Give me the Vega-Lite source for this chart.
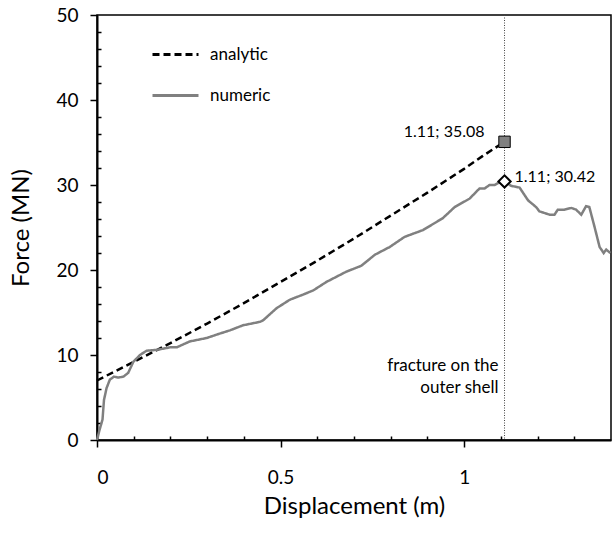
{
  "$schema": "https://vega.github.io/schema/vega-lite/v6.json",
  "width": 514,
  "height": 425,
  "autosize": {"type": "none"},
  "padding": {"left": 97, "top": 15, "right": 5, "bottom": 98},
  "background": "white",
  "config": {
    "font": "Lato",
    "view": {"stroke": "black", "strokeWidth": 1.5},
    "axis": {"grid": false, "domainColor": "black", "domainWidth": 2, "tickColor": "black", "tickWidth": 1.5, "labelColor": "black", "titleColor": "black", "labelFont": "Lato", "titleFont": "Lato", "titleFontWeight": "normal"}
  },
  "datasets": {
    "curves": [
      {"x": 0, "y": 7.0, "series": "analytic"},
      {"x": 0.1, "y": 9.2, "series": "analytic"},
      {"x": 0.2, "y": 11.4, "series": "analytic"},
      {"x": 0.3, "y": 13.7, "series": "analytic"},
      {"x": 0.4, "y": 16.1, "series": "analytic"},
      {"x": 0.5, "y": 18.6, "series": "analytic"},
      {"x": 0.6, "y": 21.1, "series": "analytic"},
      {"x": 0.7, "y": 23.7, "series": "analytic"},
      {"x": 0.8, "y": 26.4, "series": "analytic"},
      {"x": 0.9, "y": 29.1, "series": "analytic"},
      {"x": 1.0, "y": 31.9, "series": "analytic"},
      {"x": 1.05, "y": 33.4, "series": "analytic"},
      {"x": 1.11, "y": 35.08, "series": "analytic"},
      {"x": 0, "y": 0, "series": "numeric"},
      {"x": 0.007, "y": 1.2, "series": "numeric"},
      {"x": 0.015, "y": 2.4, "series": "numeric"},
      {"x": 0.019, "y": 4.7, "series": "numeric"},
      {"x": 0.026, "y": 6.1, "series": "numeric"},
      {"x": 0.035, "y": 7.1, "series": "numeric"},
      {"x": 0.046, "y": 7.45, "series": "numeric"},
      {"x": 0.058, "y": 7.35, "series": "numeric"},
      {"x": 0.072, "y": 7.45, "series": "numeric"},
      {"x": 0.085, "y": 7.9, "series": "numeric"},
      {"x": 0.099, "y": 9.2, "series": "numeric"},
      {"x": 0.117, "y": 10.0, "series": "numeric"},
      {"x": 0.135, "y": 10.5, "series": "numeric"},
      {"x": 0.162, "y": 10.6, "series": "numeric"},
      {"x": 0.199, "y": 10.9, "series": "numeric"},
      {"x": 0.217, "y": 10.9, "series": "numeric"},
      {"x": 0.253, "y": 11.6, "series": "numeric"},
      {"x": 0.299, "y": 12.0, "series": "numeric"},
      {"x": 0.326, "y": 12.4, "series": "numeric"},
      {"x": 0.362, "y": 12.9, "series": "numeric"},
      {"x": 0.398, "y": 13.5, "series": "numeric"},
      {"x": 0.444, "y": 13.9, "series": "numeric"},
      {"x": 0.453, "y": 14.1, "series": "numeric"},
      {"x": 0.489, "y": 15.5, "series": "numeric"},
      {"x": 0.525, "y": 16.5, "series": "numeric"},
      {"x": 0.561, "y": 17.1, "series": "numeric"},
      {"x": 0.589, "y": 17.6, "series": "numeric"},
      {"x": 0.625, "y": 18.6, "series": "numeric"},
      {"x": 0.679, "y": 19.8, "series": "numeric"},
      {"x": 0.72, "y": 20.5, "series": "numeric"},
      {"x": 0.757, "y": 21.8, "series": "numeric"},
      {"x": 0.797, "y": 22.7, "series": "numeric"},
      {"x": 0.838, "y": 23.9, "series": "numeric"},
      {"x": 0.888, "y": 24.7, "series": "numeric"},
      {"x": 0.942, "y": 26.1, "series": "numeric"},
      {"x": 0.974, "y": 27.4, "series": "numeric"},
      {"x": 1.015, "y": 28.4, "series": "numeric"},
      {"x": 1.042, "y": 29.6, "series": "numeric"},
      {"x": 1.056, "y": 29.6, "series": "numeric"},
      {"x": 1.069, "y": 30.0, "series": "numeric"},
      {"x": 1.083, "y": 30.0, "series": "numeric"},
      {"x": 1.095, "y": 30.3, "series": "numeric"},
      {"x": 1.11, "y": 30.42, "series": "numeric"},
      {"x": 1.128, "y": 29.9, "series": "numeric"},
      {"x": 1.151, "y": 29.7, "series": "numeric"},
      {"x": 1.174, "y": 28.2, "series": "numeric"},
      {"x": 1.196, "y": 27.4, "series": "numeric"},
      {"x": 1.205, "y": 26.9, "series": "numeric"},
      {"x": 1.233, "y": 26.5, "series": "numeric"},
      {"x": 1.246, "y": 26.5, "series": "numeric"},
      {"x": 1.255, "y": 27.1, "series": "numeric"},
      {"x": 1.273, "y": 27.1, "series": "numeric"},
      {"x": 1.292, "y": 27.3, "series": "numeric"},
      {"x": 1.305, "y": 27.1, "series": "numeric"},
      {"x": 1.319, "y": 26.5, "series": "numeric"},
      {"x": 1.332, "y": 27.5, "series": "numeric"},
      {"x": 1.341, "y": 27.4, "series": "numeric"},
      {"x": 1.355, "y": 25.1, "series": "numeric"},
      {"x": 1.369, "y": 22.7, "series": "numeric"},
      {"x": 1.38, "y": 22.0, "series": "numeric"},
      {"x": 1.387, "y": 22.4, "series": "numeric"},
      {"x": 1.398, "y": 22.0, "series": "numeric"}
    ],
    "markers": [
      {"x": 1.11, "y": 35.08, "kind": "analytic", "label": "1.11; 35.08"},
      {"x": 1.11, "y": 30.42, "kind": "numeric", "label": "1.11; 30.42"}
    ],
    "fracture": [
      {"x": 1.11, "y": 8.7, "label": "fracture on the\nouter shell"}
    ]
  },
  "layer": [
    {
      "data": {"name": "fracture"},
      "mark": {"type": "rule", "color": "#444444", "strokeWidth": 1, "strokeDash": [1, 1.5]},
      "encoding": {
        "x": {"field": "x", "type": "quantitative", "scale": {"domain": [0, 1.4], "nice": false}, "axis": null}
      }
    },
    {
      "data": {"name": "fracture"},
      "mark": {"type": "text", "align": "right", "baseline": "middle", "dx": -6, "fontSize": 17, "lineHeight": 22, "lineBreak": "\n", "color": "black"},
      "encoding": {
        "x": {"field": "x", "type": "quantitative", "axis": null},
        "y": {"field": "y", "type": "quantitative", "axis": null},
        "text": {"field": "label"}
      }
    },
    {
      "data": {"name": "curves"},
      "mark": {"type": "line", "strokeWidth": 2.5},
      "encoding": {
        "x": {"field": "x", "type": "quantitative", "scale": {"domain": [0, 1.4], "nice": false},
          "axis": {"orient": "bottom", "title": "Displacement (m)", "values": [0, 0.5, 1], "format": "~g", "tickSize": 7, "labelFontSize": 19, "labelPadding": 21, "titleFontSize": 24, "titlePadding": 7}},
        "y": {"field": "y", "type": "quantitative", "scale": {"domain": [0, 50], "nice": false},
          "axis": {"orient": "left", "title": "Force (MN)", "values": [0, 10, 20, 30, 40, 50], "tickSize": 7, "labelFontSize": 19, "labelPadding": 12, "titleFontSize": 24, "titlePadding": 22}},
        "color": {"field": "series", "type": "nominal", "scale": {"domain": ["analytic", "numeric"], "range": ["black", "#808080"]},
          "legend": {"title": null, "orient": "none", "legendX": 54, "legendY": 15, "symbolType": "stroke", "symbolSize": 2116, "symbolStrokeWidth": 3, "labelFontSize": 17, "labelOffset": 10, "rowPadding": 8, "padding": 0, "labelColor": "black"}},
        "strokeDash": {"field": "series", "type": "nominal", "scale": {"domain": ["analytic", "numeric"], "range": [[7, 4], [1, 0]]}, "legend": null}
      }
    },
    {
      "data": {"name": "markers"},
      "transform": [{"filter": "datum.kind === 'analytic'"}],
      "mark": {"type": "point", "shape": "square", "filled": true, "fill": "#808080", "stroke": "black", "strokeWidth": 1, "size": 130, "opacity": 1},
      "encoding": {
        "x": {"field": "x", "type": "quantitative",
          "axis": {"orient": "bottom", "title": null, "labels": false, "domain": false, "values": [0.1, 0.2, 0.3, 0.4, 0.6, 0.7, 0.8, 0.9, 1.1, 1.2, 1.3], "tickSize": -4}},
        "y": {"field": "y", "type": "quantitative",
          "axis": {"orient": "left", "title": null, "labels": false, "domain": false, "values": [2, 4, 6, 8, 12, 14, 16, 18, 22, 24, 26, 28, 32, 34, 36, 38, 42, 44, 46, 48], "tickSize": -4}}
      }
    },
    {
      "data": {"name": "markers"},
      "transform": [{"filter": "datum.kind === 'numeric'"}],
      "mark": {"type": "point", "shape": "diamond", "filled": true, "fill": "white", "stroke": "black", "strokeWidth": 2, "size": 150, "opacity": 1},
      "encoding": {
        "x": {"field": "x", "type": "quantitative", "axis": null},
        "y": {"field": "y", "type": "quantitative", "axis": null}
      }
    },
    {
      "data": {"name": "markers"},
      "transform": [{"filter": "datum.kind === 'analytic'"}],
      "mark": {"type": "text", "align": "right", "baseline": "middle", "dx": -20, "dy": -10, "fontSize": 16, "color": "black"},
      "encoding": {
        "x": {"field": "x", "type": "quantitative", "axis": null},
        "y": {"field": "y", "type": "quantitative", "axis": null},
        "text": {"field": "label"}
      }
    },
    {
      "data": {"name": "markers"},
      "transform": [{"filter": "datum.kind === 'numeric'"}],
      "mark": {"type": "text", "align": "left", "baseline": "middle", "dx": 10, "dy": -4, "fontSize": 16, "color": "black"},
      "encoding": {
        "x": {"field": "x", "type": "quantitative", "axis": null},
        "y": {"field": "y", "type": "quantitative", "axis": null},
        "text": {"field": "label"}
      }
    }
  ],
  "resolve": {"axis": {"x": "independent", "y": "independent"}}
}
